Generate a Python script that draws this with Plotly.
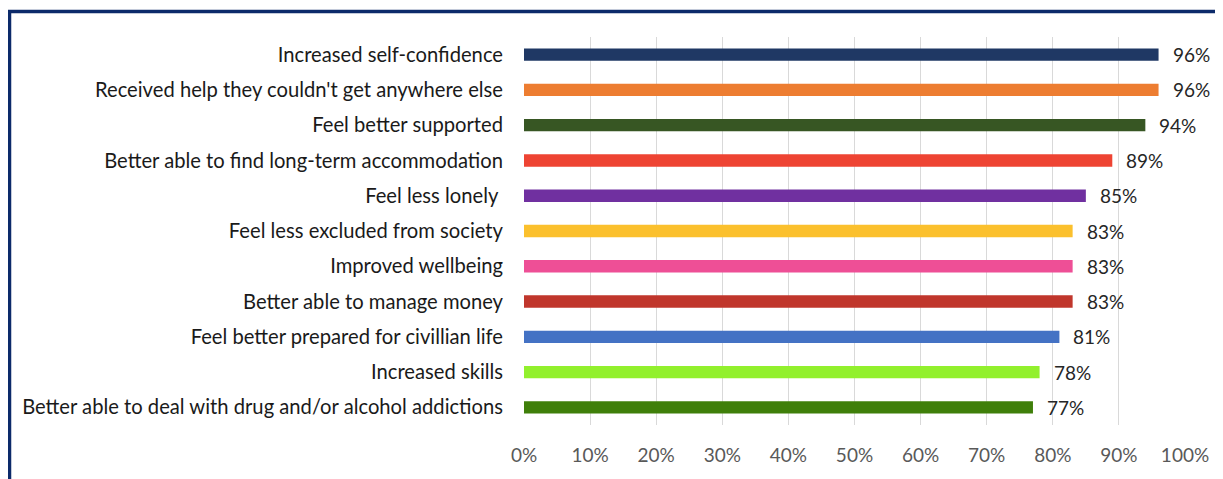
import plotly.graph_objects as go

categories = [
    "Increased self-confidence",
    "Received help they couldn't get anywhere else",
    "Feel better supported",
    "Better able to find long-term accommodation",
    "Feel less lonely ",
    "Feel less excluded from society",
    "Improved wellbeing",
    "Better able to manage money",
    "Feel better prepared for civillian life",
    "Increased skills",
    "Better able to deal with drug and/or alcohol addictions",
]
values = [96, 96, 94, 89, 85, 83, 83, 83, 81, 78, 77]
colors = [
    "#1f3864", "#ed7d31", "#375623", "#ee4433", "#7030a0", "#fbc02d",
    "#ee4f96", "#c0362c", "#4472c4", "#92f02d", "#3f7f0a",
]
tick_vals = [0, 10, 20, 30, 40, 50, 60, 70, 80, 90, 100]
tick_text = ["0%", "10%", "20%", "30%", "40%", "50%", "60%", "70%", "80%", "90%", "100%"]

FONT = "Lato"
OFF = 8  # default body margin of the page

W, H = 1223 - OFF, 479 - OFF
L, R, T, B = 524 - OFF, 1223 - 1185, 37 - OFF, 479 - 425
plot_w, plot_h = 1185 - 524, 425 - 37

fig = go.Figure()
fig.add_trace(go.Bar(
    y=categories, x=values, orientation="h",
    marker=dict(color=colors, line=dict(width=0)),
    hoverinfo="skip",
))

for c, v in zip(categories, values):
    fig.add_annotation(
        x=v, y=c, text=f"{v}%", showarrow=False, xanchor="left",
        xshift=12, font=dict(family=FONT, size=19, color="#262626"),
    )

fig.update_layout(
    width=W, height=H,
    margin=dict(l=L, r=R, t=T, b=B),
    paper_bgcolor="white", plot_bgcolor="white",
    bargap=0.65, showlegend=False,
    font=dict(family=FONT, size=20, color="#1a1a1a"),
    xaxis=dict(
        range=[0, 100], tickvals=tick_vals, ticktext=tick_text,
        showgrid=True, gridcolor="#d9d9d9", gridwidth=1,
        zeroline=False, showline=False, ticks="",
        tickfont=dict(family=FONT, size=19, color="#595959"),
        ticklabelstandoff=17,
    ),
    yaxis=dict(
        categoryorder="array", categoryarray=categories,
        autorange="reversed", showgrid=False, zeroline=False,
        ticks="", ticklabelstandoff=20,
        tickfont=dict(family=FONT, size=20.2, color="#1a1a1a"),
    ),
    shapes=[dict(
        type="rect", xref="paper", yref="paper",
        x0=(9.5 - 524) / plot_w, x1=1.2,
        y0=-0.3, y1=(425 - 11.5) / plot_h,
        line=dict(color="#0c2a6a", width=3.5), fillcolor="rgba(0,0,0,0)",
        layer="below",
    )],
)

fig.write_html("out.html")
